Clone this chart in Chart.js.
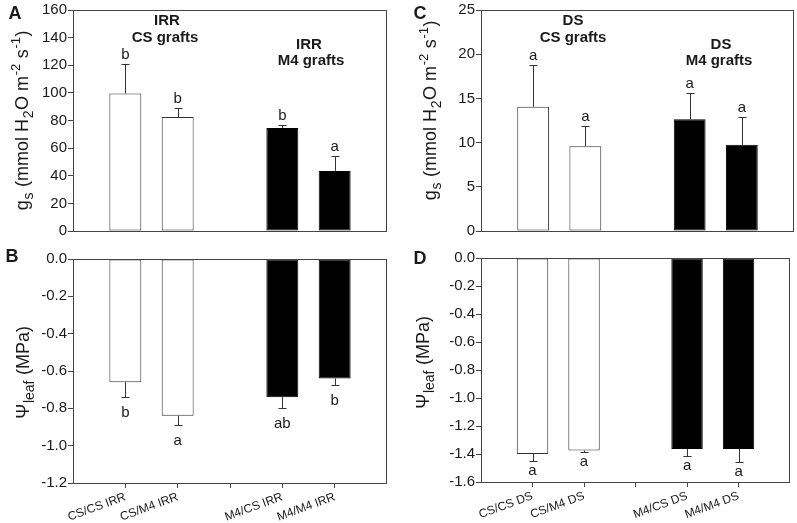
<!DOCTYPE html>
<html>
<head>
<meta charset="utf-8">
<script src="https://cdn.jsdelivr.net/npm/chart.js@4.4.1/dist/chart.umd.min.js"></script>
<style>
html, body { margin: 0; padding: 0; background: #fff; }
#wrap { position: relative; width: 797px; height: 523px; }
#wrap canvas { position: absolute; left: 0; top: 0; }
</style>
</head>
<body>
<div id="wrap">
  <canvas id="chartA" width="797" height="523"></canvas>
  <canvas id="chartB" width="797" height="523"></canvas>
  <canvas id="chartC" width="797" height="523"></canvas>
  <canvas id="chartD" width="797" height="523"></canvas>
</div>
<script>
// slots 0, 3 and 6 are empty (gap between the two graft groups)
var irrLabels = ['', 'CS/CS IRR', 'CS/M4 IRR', '', 'M4/CS IRR', 'M4/M4 IRR', ''];
var dsLabels = ['', 'CS/CS DS', 'CS/M4 DS', '', 'M4/CS DS', 'M4/M4 DS', ''];

// A - gs, irrigated
var gsIrr = [null, 99.5, 82.5, null, 74.5, 43.5, null];
var gsIrrErr = [null, 21.5, 6.5, null, 2.5, 10.5, null];
var gsIrrLetters = ['', 'b', 'b', '', 'b', 'a', ''];
// B - leaf water potential, irrigated
var psiIrr = [null, -0.66, -0.84, null, -0.74, -0.64, null];
var psiIrrErr = [null, 0.08, 0.05, null, 0.06, 0.035, null];
var psiIrrLetters = ['', 'b', 'a', '', 'ab', 'b', ''];
// C - gs, drought stress
var gsDs = [null, 14.05, 9.6, null, 12.65, 9.75, null];
var gsDsErr = [null, 4.7, 2.3, null, 3.0, 3.2, null];
var gsDsLetters = ['', 'a', 'a', '', 'a', 'a', ''];
// D - leaf water potential, drought stress
var psiDs = [null, -1.40, -1.375, null, -1.365, -1.365, null];
var psiDsErr = [null, 0.047, 0.012, null, 0.05, 0.095, null];
var psiDsLetters = ['', 'a', 'a', '', 'a', 'a', ''];

var barFill = ['#fff', '#fff', '#fff', '#fff', '#000', '#000', '#000'];
var barLine = ['#333', '#333', '#333', '#333', '#000', '#000', '#000'];

Chart.defaults.font.family = "'Liberation Sans', Arial, sans-serif";
Chart.defaults.color = '#1a1a1a';

var gsTitle = [
  { t: 'g', k: 'n' }, { t: 's', k: 'sub' }, { t: ' (mmol H', k: 'n' }, { t: '2', k: 'sub' },
  { t: 'O m', k: 'n' }, { t: '-2', k: 'sup' }, { t: ' s', k: 'n' }, { t: '-1', k: 'sup' }, { t: ')', k: 'n' }
];
var psiTitle = [{ t: 'Ψ', k: 'n' }, { t: 'leaf', k: 'sub' }, { t: ' (MPa)', k: 'n' }];

// extra drawing per panel (error bars, letters, titles)
var extras = {
  chartA: { err: gsIrrErr, letters: gsIrrLetters, below: false, title: gsTitle, tx: 22, ty: 120,
    panel: 'A', px: 15, py: 14, groups: [['IRR', 167, 21], ['CS grafts', 165, 38], ['IRR', 309, 45], ['M4 grafts', 311, 61]] },
  chartB: { err: psiIrrErr, letters: psiIrrLetters, below: true, off: 19, title: psiTitle, tx: 23, ty: 372,
    panel: 'B', px: 12, py: 257, groups: [] },
  chartC: { err: gsDsErr, letters: gsDsLetters, below: false, title: gsTitle, tx: 430, ty: 110,
    panel: 'C', px: 420, py: 14, groups: [['DS', 573, 21], ['CS grafts', 573, 38], ['DS', 721, 45], ['M4 grafts', 719, 61]] },
  chartD: { err: psiDsErr, letters: psiDsLetters, below: true, off: 13.5, title: psiTitle, tx: 423, ty: 362,
    panel: 'D', px: 420, py: 259, groups: [] }
};

function drawRich(ctx, parts, cx, cy) {
  var fonts = { n: "18px 'Liberation Sans', Arial, sans-serif", sub: "14px 'Liberation Sans', Arial, sans-serif", sup: "13px 'Liberation Sans', Arial, sans-serif" };
  var shift = { n: 0, sub: 5, sup: -8 };
  ctx.save();
  ctx.translate(cx, cy);
  ctx.rotate(-Math.PI / 2);
  ctx.fillStyle = '#1a1a1a';
  ctx.textBaseline = 'alphabetic';
  ctx.textAlign = 'left';
  var widths = parts.map(function(p) { ctx.font = fonts[p.k]; return ctx.measureText(p.t).width + 0.6; });
  var total = widths.reduce(function(a, b) { return a + b; }, 0);
  var x = -total / 2;
  parts.forEach(function(p, i) {
    ctx.font = fonts[p.k];
    ctx.fillText(p.t, x, 6 + shift[p.k]);
    x += widths[i];
  });
  ctx.restore();
}

var extrasPlugin = {
  id: 'extras',
  afterDatasetsDraw: function(chart) {
    var ex = extras[chart.canvas.id];
    var ctx = chart.ctx;
    var area = chart.chartArea;
    var yScale = chart.scales.y;
    var meta = chart.getDatasetMeta(0);
    var vals = chart.data.datasets[0].data;
    ctx.save();
    // frame
    ctx.strokeStyle = '#444';
    ctx.lineWidth = 1;
    ctx.strokeRect(Math.round(area.left) + 0.5, Math.round(area.top) + 0.5,
      Math.round(area.right - area.left) - 1, Math.round(area.bottom - area.top));
    // error bars and letters
    ctx.font = "15px 'Liberation Sans', Arial, sans-serif";
    ctx.textAlign = 'center';
    ctx.textBaseline = 'alphabetic';
    vals.forEach(function(v, i) {
      if (v === null) return;
      var bar = meta.data[i];
      var x = Math.round(bar.x) + 0.5;
      var sign = v < 0 ? -1 : 1;
      var y0 = yScale.getPixelForValue(v);
      var y1 = Math.round(yScale.getPixelForValue(v + sign * ex.err[i])) + 0.5;
      ctx.strokeStyle = '#333';
      ctx.beginPath();
      ctx.moveTo(x, y0);
      ctx.lineTo(x, y1);
      ctx.moveTo(x - 4, y1);
      ctx.lineTo(x + 4, y1);
      ctx.stroke();
      ctx.fillStyle = '#1a1a1a';
      ctx.fillText(ex.letters[i], bar.x, ex.below ? y1 + ex.off : y1 - 6);
    });
    // group headings
    ctx.font = "bold 15px 'Liberation Sans', Arial, sans-serif";
    ctx.textBaseline = 'middle';
    ex.groups.forEach(function(g) { ctx.fillText(g[0], g[1], g[2]); });
    // panel letter
    ctx.font = "bold 18px 'Liberation Sans', Arial, sans-serif";
    ctx.fillText(ex.panel, ex.px, ex.py);
    ctx.restore();
    drawRich(ctx, ex.title, ex.tx, ex.ty);
  }
};

function makeChart(id, labels, values, yMin, yMax, yStep, decimals, showX, pad) {
  return new Chart(document.getElementById(id), {
    type: 'bar',
    data: {
      labels: labels,
      datasets: [{
        data: values,
        backgroundColor: barFill,
        borderColor: barLine,
        borderWidth: 1,
        borderSkipped: false,
        categoryPercentage: 1,
        barPercentage: 0.61
      }]
    },
    options: {
      responsive: false,
      animation: false,
      devicePixelRatio: 1,
      layout: { autoPadding: false, padding: pad },
      plugins: { legend: { display: false }, tooltip: { enabled: false } },
      scales: {
        x: {
          display: showX,
          offset: false,
          grid: {
            offset: false,
            drawOnChartArea: false,
            tickLength: 5,
            tickColor: function(c) { return (c.index === 0 || c.index === 6) ? 'rgba(0,0,0,0)' : '#444'; }
          },
          border: { display: false },
          ticks: { autoSkip: false, minRotation: 20, maxRotation: 20, padding: 2, font: { size: 12 }, color: '#1a1a1a' },
          afterFit: function(s) { s.height = showX ? 40 : 0; }
        },
        y: {
          min: yMin,
          max: yMax,
          grid: { drawOnChartArea: false, tickLength: 5, tickColor: '#444' },
          border: { display: false },
          ticks: {
            stepSize: yStep,
            padding: 1,
            font: { size: 15 },
            color: '#1a1a1a',
            callback: function(v) { return Number(v).toFixed(decimals); }
          },
          afterFit: function(s) { s.width = 45; }
        }
      }
    },
    plugins: [extrasPlugin]
  });
}

makeChart('chartA', irrLabels, gsIrr, 0, 160, 20, 0, false, { left: 28, right: 410, top: 7, bottom: 292 });
makeChart('chartB', irrLabels, psiIrr, -1.2, 0, 0.2, 1, true, { left: 28, right: 410, top: 259, bottom: 0 });
makeChart('chartC', dsLabels, gsDs, 0, 25, 5, 0, false, { left: 436, right: 3, top: 7, bottom: 292 });
makeChart('chartD', dsLabels, psiDs, -1.6, 0, 0.2, 1, true, { left: 436, right: 3, top: 258, bottom: 1 });
</script>
</body>
</html>
